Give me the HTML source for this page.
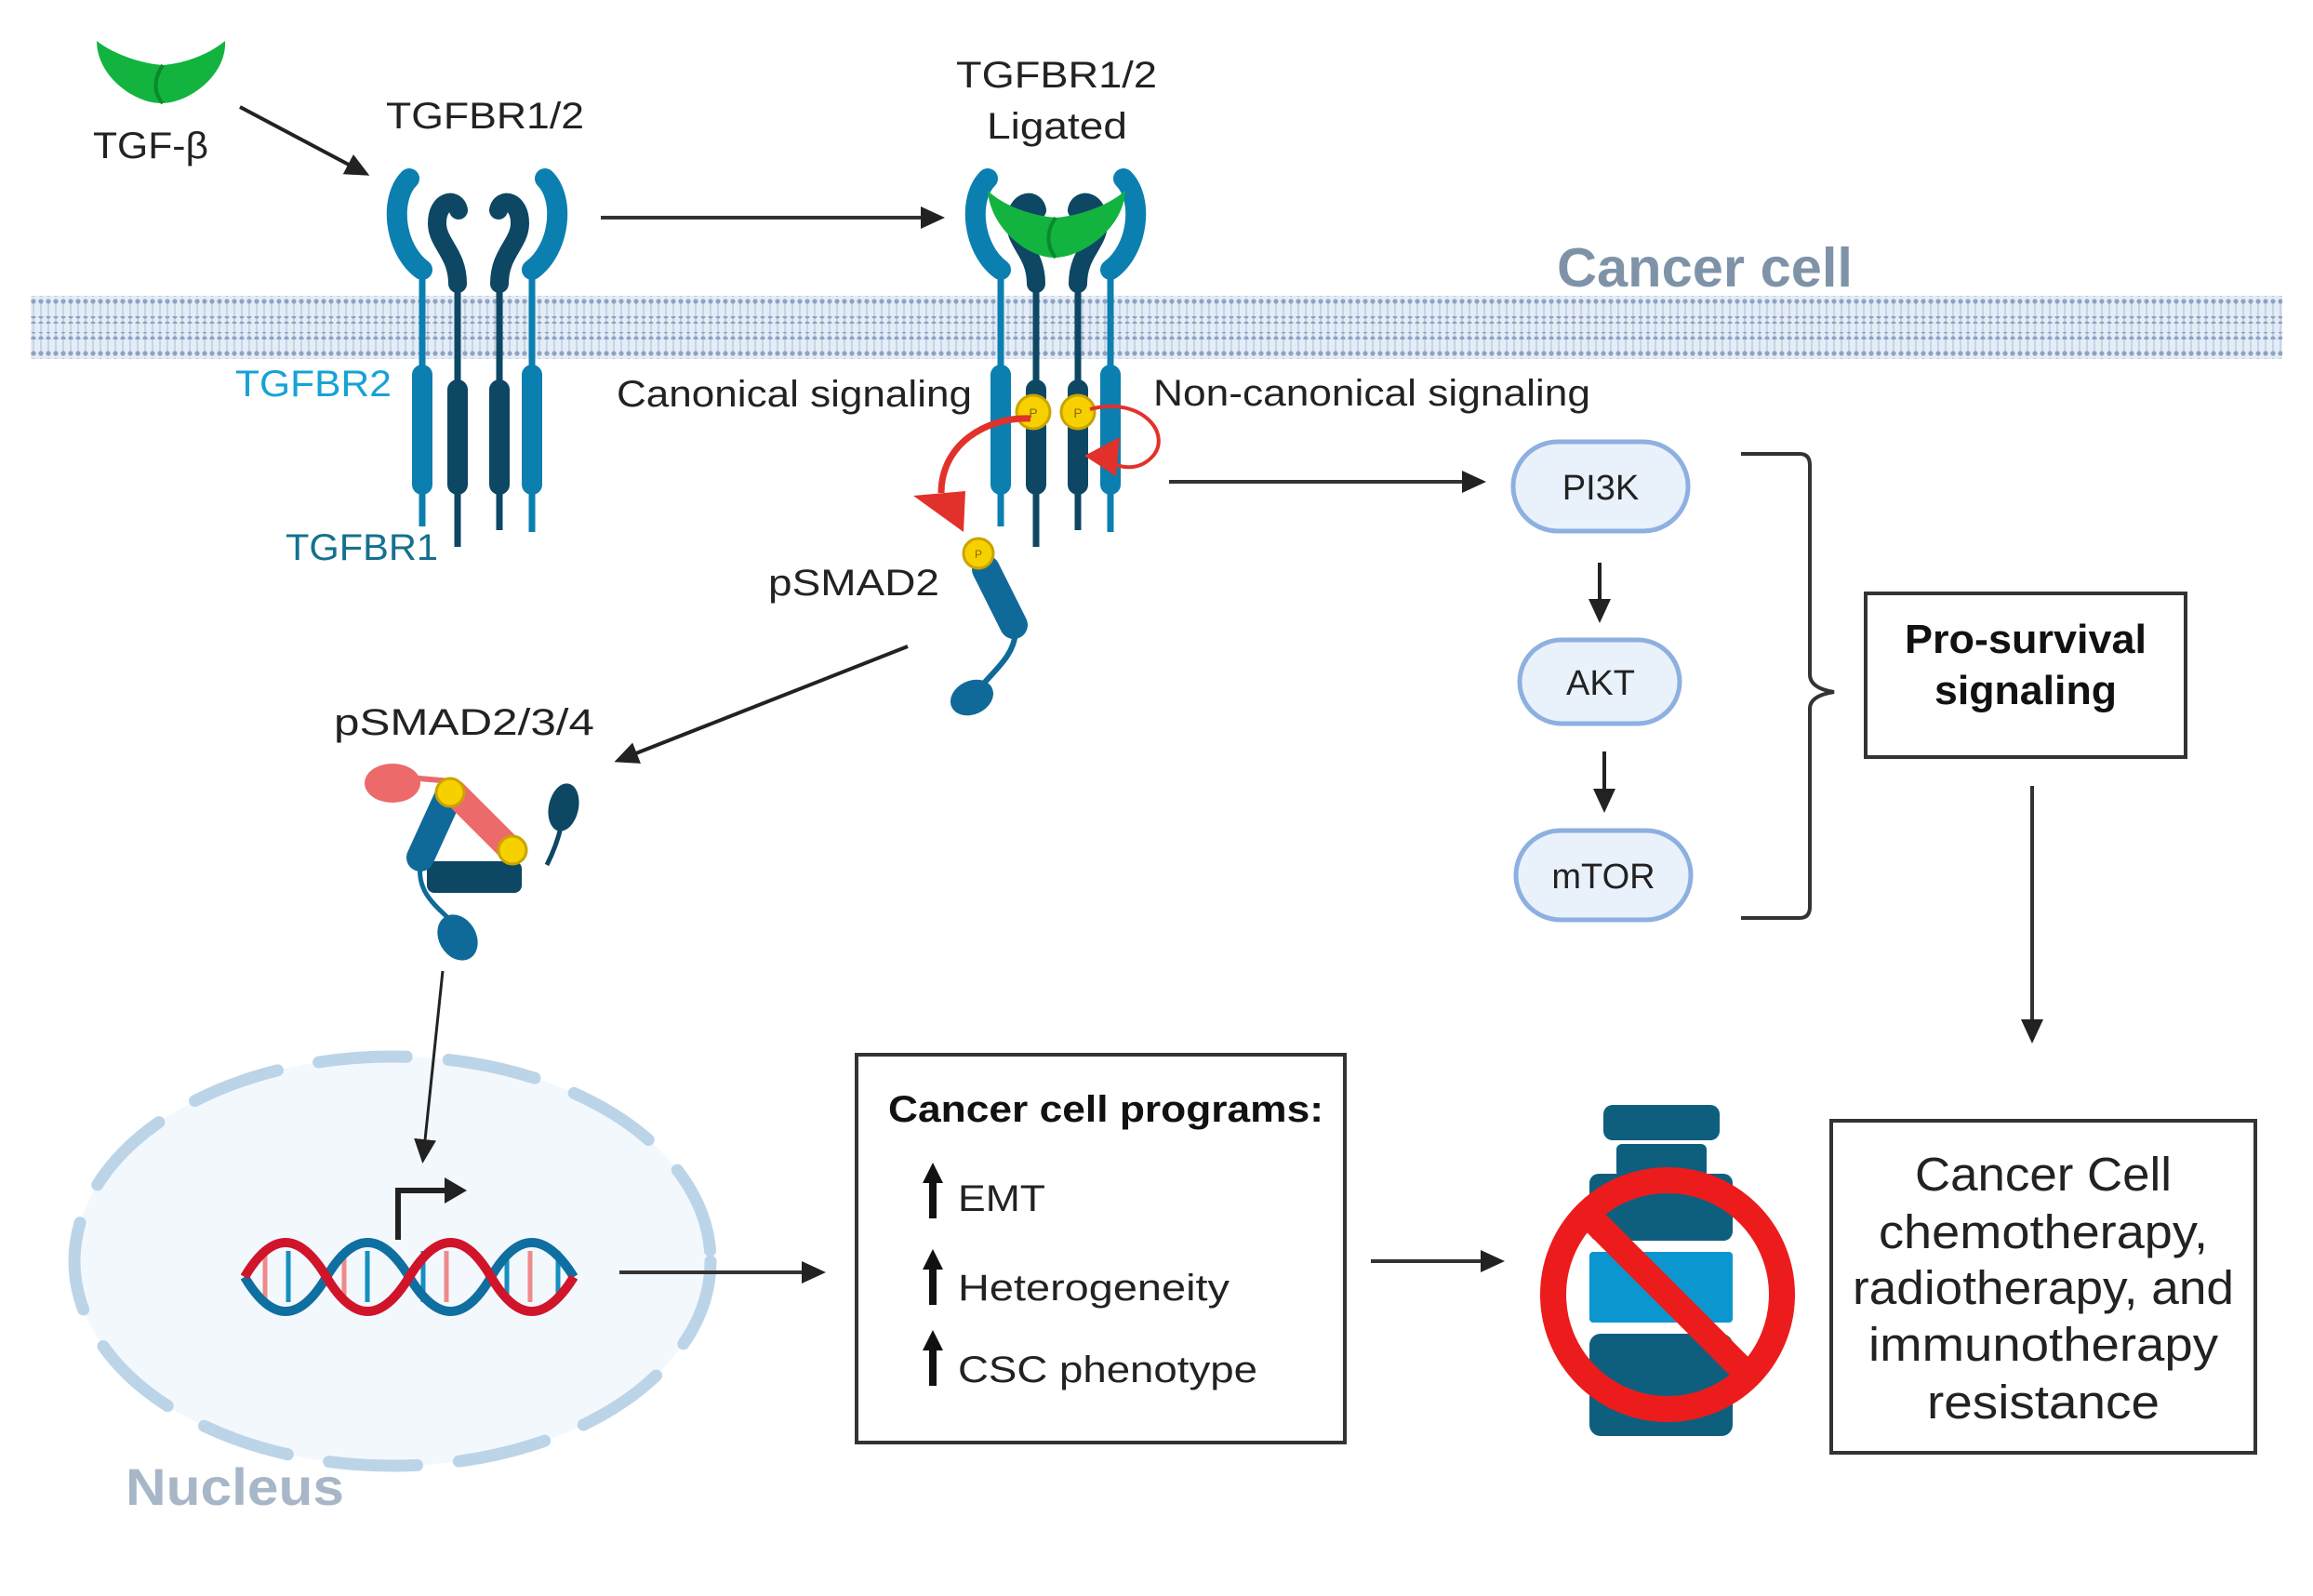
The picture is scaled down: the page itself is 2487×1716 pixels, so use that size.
<!DOCTYPE html>
<html><head><meta charset="utf-8"><style>
html,body{margin:0;padding:0;background:#fff}
svg{display:block}
text{font-family:"Liberation Sans",Arial,sans-serif}
</style></head><body>
<svg width="2487" height="1716" viewBox="0 0 2487 1716" xmlns="http://www.w3.org/2000/svg">
<defs>
<pattern id="dots" width="8" height="8" patternUnits="userSpaceOnUse"><circle cx="4" cy="4" r="2.6" fill="#8ea3c2"/></pattern>
<pattern id="stripes" width="8" height="8" patternUnits="userSpaceOnUse"><rect x="3" y="0" width="2" height="8" fill="#c6d4e8"/></pattern>
<marker id="ah" markerWidth="26" markerHeight="24" refX="20" refY="12" orient="auto" markerUnits="userSpaceOnUse" viewBox="0 0 26 24"><path d="M0,0 L26,12 L0,24 z" fill="#222"/></marker>
<g id="rec">
  <path d="M454,290 C424,268 418,214 440,192" fill="none" stroke="#0b7fb0" stroke-width="22" stroke-linecap="round"/>
  <line x1="454" y1="285" x2="454" y2="566" stroke="#0b7fb0" stroke-width="7"/>
  <rect x="443" y="392" width="22" height="140" rx="11" fill="#0b7fb0"/>
  <path d="M572,290 C602,268 608,214 586,192" fill="none" stroke="#0b7fb0" stroke-width="22" stroke-linecap="round"/>
  <line x1="572" y1="285" x2="572" y2="572" stroke="#0b7fb0" stroke-width="7"/>
  <rect x="561" y="392" width="22" height="140" rx="11" fill="#0b7fb0"/>
  <path d="M492,305 C492,272 470,262 470,240 C470,215 490,212 493,226" fill="none" stroke="#0d4764" stroke-width="20" stroke-linecap="round"/>
  <line x1="492" y1="300" x2="492" y2="588" stroke="#0d4764" stroke-width="7"/>
  <rect x="481" y="408" width="22" height="124" rx="11" fill="#0d4764"/>
  <path d="M537,305 C537,272 559,262 559,240 C559,215 539,212 536,226" fill="none" stroke="#0d4764" stroke-width="20" stroke-linecap="round"/>
  <line x1="537" y1="300" x2="537" y2="570" stroke="#0d4764" stroke-width="7"/>
  <rect x="526" y="408" width="22" height="124" rx="11" fill="#0d4764"/>
</g>
</defs>

<!-- membrane -->
<rect x="33" y="318" width="2421" height="68" fill="#e4ecf6"/>
<rect x="33" y="326" width="2421" height="52" fill="url(#stripes)"/>
<rect x="33" y="318" width="2421" height="9" fill="url(#dots)"/>
<rect x="33" y="340" width="2421" height="8" fill="url(#dots)"/>
<rect x="33" y="357" width="2421" height="8" fill="url(#dots)"/>
<rect x="33" y="377" width="2421" height="9" fill="url(#dots)"/>

<!-- TGF-beta -->
<path d="M104,44 C104,82 145,112 175,111 C205,110 244,80 242,44 C225,58 200,68 175,70 C150,68 122,58 104,44 Z" fill="#12b33e"/>
<path d="M175,70 C165,85 165,100 175,111" fill="none" stroke="#0a8a2c" stroke-width="4"/>
<text x="100" y="170" font-size="40" fill="#222" textLength="124" lengthAdjust="spacingAndGlyphs">TGF-β</text>
<line x1="258" y1="115" x2="392" y2="186" stroke="#222" stroke-width="4" marker-end="url(#ah)"/>

<text x="415" y="138" font-size="40" fill="#222" textLength="213" lengthAdjust="spacingAndGlyphs">TGFBR1/2</text>
<use href="#rec"/>
<text x="253" y="426" font-size="40" fill="#17a2d6" textLength="168" lengthAdjust="spacingAndGlyphs">TGFBR2</text>
<text x="307" y="602" font-size="40" fill="#15708f" textLength="164" lengthAdjust="spacingAndGlyphs">TGFBR1</text>

<line x1="646" y1="234" x2="1010" y2="234" stroke="#333" stroke-width="4" marker-end="url(#ah)"/>

<!-- ligated receptor -->
<text x="1028" y="94" font-size="40" fill="#222" textLength="216" lengthAdjust="spacingAndGlyphs">TGFBR1/2</text>
<text x="1061" y="149" font-size="40" fill="#222" textLength="151" lengthAdjust="spacingAndGlyphs">Ligated</text>
<g transform="translate(622,0)"><use href="#rec"/></g>
<path d="M1062,205 C1065,245 1105,278 1135,277 C1165,276 1208,245 1210,205 C1190,222 1160,232 1135,234 C1110,232 1080,222 1062,205 Z" fill="#12b33e"/>
<path d="M1135,234 C1125,248 1125,265 1135,277" fill="none" stroke="#0a8a2c" stroke-width="4"/>
<circle cx="1111" cy="443" r="18" fill="#f7d000" stroke="#c9a400" stroke-width="3"/>
<circle cx="1159" cy="443" r="18" fill="#f7d000" stroke="#c9a400" stroke-width="3"/>
<text x="1111" y="449" font-size="14" fill="#8a6b00" text-anchor="middle">P</text>
<text x="1159" y="449" font-size="14" fill="#8a6b00" text-anchor="middle">P</text>
<path d="M1108,450 C1060,448 1012,478 1012,530" fill="none" stroke="#e2312b" stroke-width="7"/>
<polygon points="982,533 1038,528 1036,572" fill="#e2312b"/>
<path d="M1172,440 C1228,425 1262,468 1238,492 C1224,506 1206,504 1192,496" fill="none" stroke="#e2312b" stroke-width="4"/>
<polygon points="1166,490 1204,470 1200,512" fill="#e2312b"/>

<text x="663" y="437" font-size="40" fill="#222" textLength="382" lengthAdjust="spacingAndGlyphs">Canonical signaling</text>
<text x="1240" y="436" font-size="40" fill="#222" textLength="470" lengthAdjust="spacingAndGlyphs">Non-canonical signaling</text>
<text x="1833" y="308" font-size="59" font-weight="bold" fill="#7f93a8" text-anchor="middle" textLength="318" lengthAdjust="spacingAndGlyphs">Cancer cell</text>

<!-- pSMAD2 -->
<text x="826" y="640" font-size="40" fill="#222" textLength="184" lengthAdjust="spacingAndGlyphs">pSMAD2</text>
<line x1="1060" y1="612" x2="1090" y2="672" stroke="#0f6a99" stroke-width="30" stroke-linecap="round"/>
<path d="M1092,680 C1090,705 1070,720 1055,738" fill="none" stroke="#0f6a99" stroke-width="6"/>
<ellipse cx="1045" cy="750" rx="24" ry="18" transform="rotate(-25 1045 750)" fill="#0f6a99"/>
<circle cx="1052" cy="595" r="16" fill="#f7d000" stroke="#c9a400" stroke-width="3"/>
<text x="1052" y="600" font-size="12" fill="#8a6b00" text-anchor="middle">P</text>
<line x1="976" y1="695" x2="666" y2="817" stroke="#222" stroke-width="4" marker-end="url(#ah)"/>

<!-- pSMAD2/3/4 complex -->
<text x="359" y="790" font-size="40" fill="#222" textLength="280" lengthAdjust="spacingAndGlyphs">pSMAD2/3/4</text>
<ellipse cx="422" cy="842" rx="30" ry="21" fill="#ec6a6a"/>
<path d="M440,836 L485,840" stroke="#ec6a6a" stroke-width="6"/>
<path d="M588,930 C598,910 602,895 604,885" fill="none" stroke="#0d4764" stroke-width="5"/>
<ellipse cx="606" cy="868" rx="16" ry="26" transform="rotate(12 606 868)" fill="#0d4764"/>
<rect x="459" y="926" width="102" height="34" rx="8" fill="#0d4764"/>
<line x1="484" y1="852" x2="452" y2="922" stroke="#0f6a99" stroke-width="30" stroke-linecap="round"/>
<line x1="488" y1="852" x2="548" y2="912" stroke="#ec6a6a" stroke-width="28" stroke-linecap="round"/>
<path d="M452,930 C448,960 470,975 485,990" fill="none" stroke="#0f6a99" stroke-width="5"/>
<ellipse cx="492" cy="1008" rx="20" ry="26" transform="rotate(-30 492 1008)" fill="#0f6a99"/>
<circle cx="484" cy="852" r="15" fill="#f7d000" stroke="#c9a400" stroke-width="3"/>
<circle cx="551" cy="914" r="15" fill="#f7d000" stroke="#c9a400" stroke-width="3"/>

<!-- nucleus -->
<ellipse cx="422" cy="1356" rx="342" ry="220" fill="#f3f8fd" stroke="#bcd4e8" stroke-width="13" stroke-dasharray="95 45" stroke-linecap="round"/>
<text x="135" y="1618" font-size="56" font-weight="bold" fill="#a7b7c8" textLength="235" lengthAdjust="spacingAndGlyphs">Nucleus</text>
<line x1="476" y1="1044" x2="455" y2="1245" stroke="#222" stroke-width="3" marker-end="url(#ah)"/>

<!-- DNA -->
<g stroke-width="5">
<line x1="285" y1="1345" x2="285" y2="1400" stroke="#ef8a8a"/><line x1="310" y1="1345" x2="310" y2="1400" stroke="#1590c0"/>
<line x1="370" y1="1345" x2="370" y2="1400" stroke="#ef8a8a"/><line x1="395" y1="1345" x2="395" y2="1400" stroke="#1590c0"/>
<line x1="455" y1="1345" x2="455" y2="1400" stroke="#1590c0"/><line x1="480" y1="1345" x2="480" y2="1400" stroke="#ef8a8a"/>
<line x1="545" y1="1345" x2="545" y2="1400" stroke="#1590c0"/><line x1="570" y1="1345" x2="570" y2="1400" stroke="#ef8a8a"/>
<line x1="600" y1="1345" x2="600" y2="1400" stroke="#1590c0"/>
</g>
<path d="M263,1373 Q307,1447 351,1373 T440,1373 T528,1373 T617,1373" fill="none" stroke="#0e6fa0" stroke-width="10"/>
<path d="M263,1373 Q307,1299 351,1373 T440,1373 T528,1373 T617,1373" fill="none" stroke="#d0152a" stroke-width="10"/>
<path d="M428,1333 L428,1280 L480,1280" fill="none" stroke="#222" stroke-width="6"/>
<polygon points="478,1266 502,1280 478,1294" fill="#222"/>
<line x1="666" y1="1368" x2="882" y2="1368" stroke="#333" stroke-width="4" marker-end="url(#ah)"/>

<!-- programs box -->
<rect x="921" y="1134" width="525" height="417" fill="#fff" stroke="#333" stroke-width="4"/>
<text x="955" y="1206" font-size="40" font-weight="bold" fill="#111" textLength="468" lengthAdjust="spacingAndGlyphs">Cancer cell programs:</text>
<g fill="#111">
<polygon points="1003,1250 992,1272 1014,1272"/><rect x="999" y="1268" width="8" height="42"/>
<polygon points="1003,1343 992,1365 1014,1365"/><rect x="999" y="1361" width="8" height="42"/>
<polygon points="1003,1430 992,1452 1014,1452"/><rect x="999" y="1448" width="8" height="42"/>
</g>
<text x="1030" y="1302" font-size="40" fill="#222" textLength="94" lengthAdjust="spacingAndGlyphs">EMT</text>
<text x="1030" y="1398" font-size="40" fill="#222" textLength="292" lengthAdjust="spacingAndGlyphs">Heterogeneity</text>
<text x="1030" y="1486" font-size="40" fill="#222" textLength="322" lengthAdjust="spacingAndGlyphs">CSC phenotype</text>
<line x1="1474" y1="1356" x2="1612" y2="1356" stroke="#333" stroke-width="4" marker-end="url(#ah)"/>

<!-- bottle -->
<rect x="1724" y="1188" width="125" height="38" rx="10" fill="#0e5f7e"/>
<rect x="1738" y="1230" width="97" height="36" rx="6" fill="#0e5f7e"/>
<rect x="1709" y="1262" width="154" height="72" rx="10" fill="#0e5f7e"/>
<rect x="1709" y="1346" width="154" height="76" rx="4" fill="#0b96cf"/>
<rect x="1709" y="1434" width="154" height="110" rx="12" fill="#0e5f7e"/>
<circle cx="1793" cy="1392" r="123" fill="none" stroke="#ec1c1c" stroke-width="28"/>
<line x1="1706" y1="1305" x2="1880" y2="1479" stroke="#ec1c1c" stroke-width="28"/>

<!-- PI3K pathway -->
<line x1="1257" y1="518" x2="1592" y2="518" stroke="#333" stroke-width="4" marker-end="url(#ah)"/>
<rect x="1627" y="475" width="188" height="96" rx="48" fill="#e9f1fb" stroke="#8db0e0" stroke-width="5"/>
<rect x="1634" y="688" width="172" height="90" rx="45" fill="#e9f1fb" stroke="#8db0e0" stroke-width="5"/>
<rect x="1630" y="893" width="188" height="96" rx="48" fill="#e9f1fb" stroke="#8db0e0" stroke-width="5"/>
<text x="1721" y="537" font-size="38" fill="#222" text-anchor="middle">PI3K</text>
<text x="1721" y="747" font-size="38" fill="#222" text-anchor="middle">AKT</text>
<text x="1724" y="955" font-size="38" fill="#222" text-anchor="middle">mTOR</text>
<line x1="1720" y1="605" x2="1720" y2="664" stroke="#222" stroke-width="4" marker-end="url(#ah)"/>
<line x1="1725" y1="808" x2="1725" y2="868" stroke="#222" stroke-width="4" marker-end="url(#ah)"/>
<path d="M1872,488 L1935,488 Q1946,488 1946,500 L1946,725 Q1946,740 1972,744 Q1946,748 1946,762 L1946,975 Q1946,987 1935,987 L1872,987" fill="none" stroke="#333" stroke-width="4"/>

<rect x="2006" y="638" width="344" height="176" fill="#fff" stroke="#333" stroke-width="4"/>
<text x="2178" y="702" font-size="44" font-weight="bold" fill="#111" text-anchor="middle" textLength="260" lengthAdjust="spacingAndGlyphs">Pro-survival</text>
<text x="2178" y="757" font-size="44" font-weight="bold" fill="#111" text-anchor="middle" textLength="196" lengthAdjust="spacingAndGlyphs">signaling</text>
<line x1="2185" y1="845" x2="2185" y2="1116" stroke="#333" stroke-width="4" marker-end="url(#ah)"/>

<rect x="1969" y="1205" width="456" height="357" fill="#fff" stroke="#333" stroke-width="4"/>
<g font-size="51" fill="#222" text-anchor="middle">
<text x="2197" y="1280" textLength="276" lengthAdjust="spacingAndGlyphs">Cancer Cell</text>
<text x="2197" y="1342" textLength="354" lengthAdjust="spacingAndGlyphs">chemotherapy,</text>
<text x="2197" y="1402" textLength="410" lengthAdjust="spacingAndGlyphs">radiotherapy, and</text>
<text x="2197" y="1463" textLength="376" lengthAdjust="spacingAndGlyphs">immunotherapy</text>
<text x="2197" y="1525" textLength="250" lengthAdjust="spacingAndGlyphs">resistance</text>
</g>
</svg>
</body></html>
